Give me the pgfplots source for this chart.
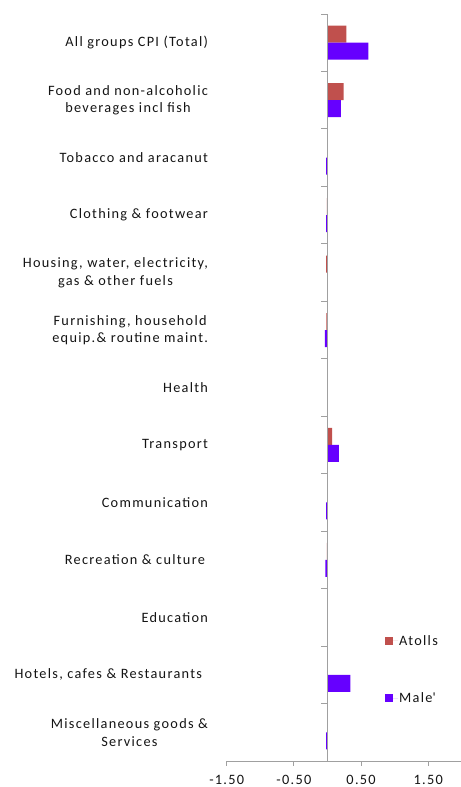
\documentclass[border=0pt]{standalone}
\usepackage{fontspec}
\setmainfont{Carlito}[LetterSpace=9]
\usepackage{pgfplots}
\pgfplotsset{compat=1.18}
\definecolor{atolls}{RGB}{192,80,77}
\definecolor{male}{RGB}{102,0,255}
\definecolor{axgray}{RGB}{160,160,160}
\definecolor{txt}{RGB}{20,20,20}
\newcommand{\lbl}{\fontsize{14.3bp}{17.7bp}\selectfont}

\begin{document}
\begin{tikzpicture}
\begin{axis}[
    scale only axis,
    width=235.2bp,
    height=747bp,
    xbar=0pt,
    bar width=17bp,
    xmin=-1.5, xmax=2.0,
    ymin=-0.5, ymax=12.5,
    y dir=reverse,
    axis lines*=left,
    x axis line style={axgray, line width=0.9bp, -},
    y axis line style={draw=none},
    tick align=outside,
    major tick length=4.5bp,
    xtick={-1.5,-0.5,0.5,1.5},
    x tick style={axgray, line width=0.9bp},
    /pgf/number format/.cd, fixed, fixed zerofill, precision=2, assume math mode=true,
    /pgfplots/.cd,
    xticklabel style={font=\lbl, text=txt, inner sep=0pt, yshift=-9.5bp},
    ytick={0,...,12},
    y tick style={draw=none},
    yticklabels={
        {All groups CPI (Total)},
        {Food and non-alcoholic\\beverages incl fish},
        {Tobacco and aracanut},
        {Clothing \& footwear},
        {Housing, water, electricity,\\gas \& other fuels},
        {Furnishing, household\\equip.\& routine maint.},
        {Health},
        {Transport},
        {Communication},
        {Recreation \& culture\rule{3bp}{0pt}},
        {Education},
        {Hotels, cafes \& Restaurants\rule{6bp}{0pt}},
        {Miscellaneous goods \&\\Services}
    },
    yticklabel style={align=center, font=\lbl, text=txt, inner sep=0pt, xshift=-14bp},
    legend style={draw=none, fill=none, font=\lbl, text=txt, inner sep=0pt,
        at={(rel axis cs:0.673,0.170)}, anchor=north west, row sep=44bp,
        nodes={inner sep=1bp}},
    legend cell align=left,
]
\addplot[fill=atolls, draw=none, bar shift=8.5bp,
    legend image code/.code={\fill[atolls] (0bp,-4bp) rectangle (8bp,4bp);
        \path (0bp,0bp) -- (13bp,0bp);}]
coordinates {
(0.28,0) (0.24,1) (0.00,2) (-0.01,3) (-0.02,4) (-0.015,5) (0.00,6)
(0.07,7) (0.00,8) (-0.01,9) (0.00,10) (0.00,11) (0.00,12)
};
\addlegendentry{Atolls}
\addplot[fill=male, draw=none, bar shift=-8.5bp,
    legend image code/.code={\fill[male] (0bp,-4bp) rectangle (8bp,4bp);
        \path (0bp,0bp) -- (13bp,0bp);}]
coordinates {
(0.61,0) (0.20,1) (-0.02,2) (-0.02,3) (0.00,4) (-0.04,5) (0.00,6)
(0.17,7) (-0.02,8) (-0.03,9) (0.00,10) (0.34,11) (-0.02,12)
};
\addlegendentry{Male\textquotesingle}
\draw[axgray, line width=0.9bp] (axis cs:0,-0.5) -- (axis cs:0,12.5);
\pgfplotsinvokeforeach{-0.5,0.5,...,12.5}{
    \draw[axgray, line width=0.9bp] (axis cs:0,#1) -- ++(-6bp,0pt);
}
\end{axis}
\pgfresetboundingbox
\path (current axis.south west) ++(-226.7bp,-26bp) rectangle ++(461bp,787bp);
\end{tikzpicture}
\end{document}
